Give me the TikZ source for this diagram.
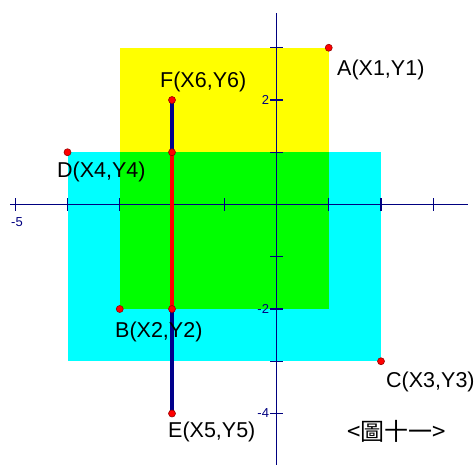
\documentclass[tikz,border=0pt]{standalone}
\usepackage{fontspec}
\setmainfont{Liberation Sans}
\newfontfamily\cjkfont{Noto Sans CJK TC}
\definecolor{axisblue}{RGB}{0,0,128}
\definecolor{segblue}{RGB}{0,0,140}
\definecolor{yel}{RGB}{255,255,0}
\definecolor{cya}{RGB}{0,255,255}
\definecolor{gre}{RGB}{0,255,0}
\begin{document}
\begin{tikzpicture}[x=52.25pt,y=52.25pt,
  axisline/.style={draw=axisblue,line width=1.2pt},
  tickline/.style={draw=axisblue,line width=1.2pt},
  ticklabel/.style={text=axisblue,font=\fontsize{13}{15}\selectfont,inner sep=0pt},
  ptlabel/.style={font=\fontsize{21.5}{25}\selectfont,inner sep=0pt,anchor=west},
  dot/.style={circle,fill=red,draw=red!60!black,line width=0.6pt,minimum size=7pt,inner sep=0pt},
  seg/.style={line width=4pt},
]
\useasboundingbox (-5.292,-4.986) rectangle (3.780,3.914);
% points
\coordinate (A) at (1,3);
\coordinate (B) at (-3,-2);
\coordinate (C) at (2,-3);
\coordinate (D) at (-4,1);
\coordinate (E) at (-2,-4);
\coordinate (F) at (-2,2);
\coordinate (P1) at (-2,1);
\coordinate (P2) at (-2,-2);
% rectangles
\fill[cya] (D) rectangle (C);
\fill[yel] (B) rectangle (A);
\fill[gre] (-3,-2) rectangle (1,1);
% axes
\coordinate (xl) at (-5.10,0);
\coordinate (xr) at (3.665,0);
\coordinate (yt) at (0,3.665);
\coordinate (yb) at (0,-4.986);
\draw[axisline] (xl) -- (xr);
\draw[axisline] (yt) -- (yb);
\foreach \i in {-5,-4,-3,-2,-1,1,2,3}
  \draw[tickline] (\i,-0.124) -- (\i,0.124);
\foreach \j in {-4,-3,-2,-1,1,2,3}
  \draw[tickline] (-0.124,\j) -- (0.124,\j);
\node[ticklabel] (lm5) at (-4.967,-0.335) {-5};
\node[ticklabel,anchor=east] (l2) at (-0.14,2) {2};
\node[ticklabel,anchor=east] (lm2) at (-0.14,-2) {-2};
\node[ticklabel,anchor=east] (lm4) at (-0.14,-4) {-4};
% segments
\draw[seg,segblue] (F) -- (P1);
\draw[seg,segblue] (P2) -- (E);
\draw[seg,red] (P1) -- (P2);
% dots
\foreach \p in {A,B,C,D,E,F,P1,P2}
  \node[dot] at (\p) {};
% labels
\node[ptlabel] (lA) at (1.158,2.574) {A(X1,Y1)};
\node[ptlabel] (lF) at (-2.230,2.344) {F(X6,Y6)};
\node[ptlabel] (lD) at (-4.201,0.622) {D(X4,Y4)};
\node[ptlabel] (lB) at (-3.091,-2.440) {B(X2,Y2)};
\node[ptlabel] (lE) at (-2.077,-4.354) {E(X5,Y5)};
\node[ptlabel] (lC) at (2.096,-3.397) {C(X3,Y3)};
\node[font=\cjkfont\fontsize{24}{28}\selectfont,inner sep=0pt] (cap) at (2.306,-4.335) {<圖十一>};
\end{tikzpicture}
\end{document}
